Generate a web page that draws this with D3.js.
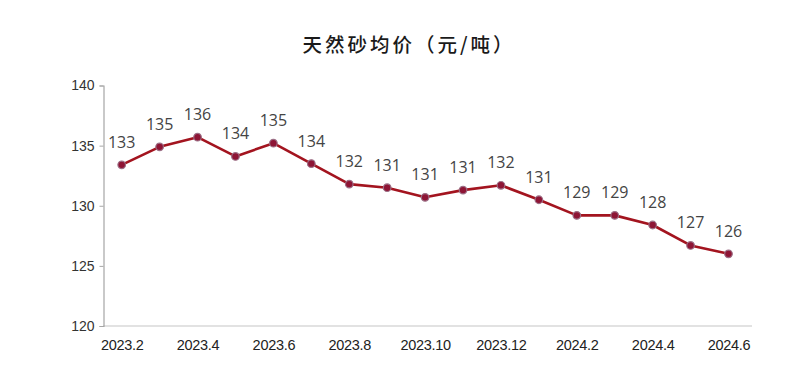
<!DOCTYPE html>
<html><head><meta charset="utf-8">
<script src="https://cdn.jsdelivr.net/npm/d3@7/dist/d3.min.js"></script>
<style>body{margin:0;background:#fff;}svg{display:block;}</style>
</head><body>
<script>
const months = ["2023.2","2023.3","2023.4","2023.5","2023.6","2023.7","2023.8","2023.9","2023.10","2023.11","2023.12","2024.1","2024.2","2024.3","2024.4","2024.5","2024.6"];
const prices = [133.4,134.9,135.7,134.1,135.2,133.5,131.8,131.5,130.7,131.3,131.7,130.5,129.2,129.2,128.4,126.7,126.0];
const priceLabels = ["133","135","136","134","135","134","132","131","131","131","132","131","129","129","128","127","126"];
const xTickLabels = ["2023.2","2023.4","2023.6","2023.8","2023.10","2023.12","2024.2","2024.4","2024.6"];
const yTicks = [120,125,130,135,140];
const title = "天然砂均价（元/吨）";

const W = 812, H = 368;
const svg = d3.select("body").append("svg").attr("width", W).attr("height", H);

const x = d3.scalePoint().domain(months).range([121.7, 728.5]);
const y = d3.scaleLinear().domain([120, 140]).range([326, 85.5]);

svg.append("text").attr("x", 409).attr("y", 52).attr("text-anchor", "middle")
  .attr("font-family", "'Noto Sans CJK SC', sans-serif").attr("font-size", 19.5)
  .attr("font-weight", 500).attr("letter-spacing", 3).attr("fill", "#1a1a1a").text(title);

// x axis baseline
svg.append("line").attr("x1", 103).attr("x2", 752).attr("y1", y(120)).attr("y2", y(120))
  .attr("stroke", "#d9d9d9").attr("stroke-width", 1.3);

// y axis
const yAxis = d3.axisLeft(y).tickValues(yTicks).tickSize(4).tickPadding(5).tickFormat(d3.format("d"));
const gy = svg.append("g").attr("transform", "translate(103.5,0)").call(yAxis);
gy.select(".domain").attr("stroke", "#a6a6a6").attr("stroke-width", 1.2);
gy.selectAll(".tick line").attr("stroke", "#a6a6a6");
gy.selectAll(".tick text").attr("font-family", "'Liberation Sans', Arial, sans-serif")
  .attr("font-size", 14).attr("fill", "#333");

// x axis labels
const xAxis = d3.axisBottom(x).tickValues(xTickLabels).tickSize(0).tickPadding(14);
const gx = svg.append("g").attr("transform", `translate(0,${y(120)})`).call(xAxis);
gx.select(".domain").remove();
gx.selectAll(".tick text").attr("font-family", "'Liberation Sans', Arial, sans-serif")
  .attr("font-size", 14.5).attr("letter-spacing", -0.3).attr("fill", "#222");

// line
const line = d3.line().x((d, i) => x(months[i])).y(d => y(d));
svg.append("path").datum(prices).attr("d", line).attr("fill", "none")
  .attr("stroke", "#a3141f").attr("stroke-width", 2.6).attr("stroke-linejoin", "round");

// markers
svg.selectAll("circle.pt").data(prices).enter().append("circle").attr("class", "pt")
  .attr("cx", (d, i) => x(months[i])).attr("cy", d => y(d)).attr("r", 3.8)
  .attr("fill", "#8e1535").attr("stroke", "#9c6f86").attr("stroke-width", 1.2);

// labels
svg.selectAll("text.lbl").data(prices).enter().append("text").attr("class", "lbl")
  .attr("x", (d, i) => x(months[i])).attr("y", d => y(d) - 17)
  .attr("text-anchor", "middle").attr("font-family", "'Open Sans', 'Liberation Sans', sans-serif")
  .attr("font-size", 16).attr("fill", "#444").text((d, i) => priceLabels[i]);
</script>
</body></html>
